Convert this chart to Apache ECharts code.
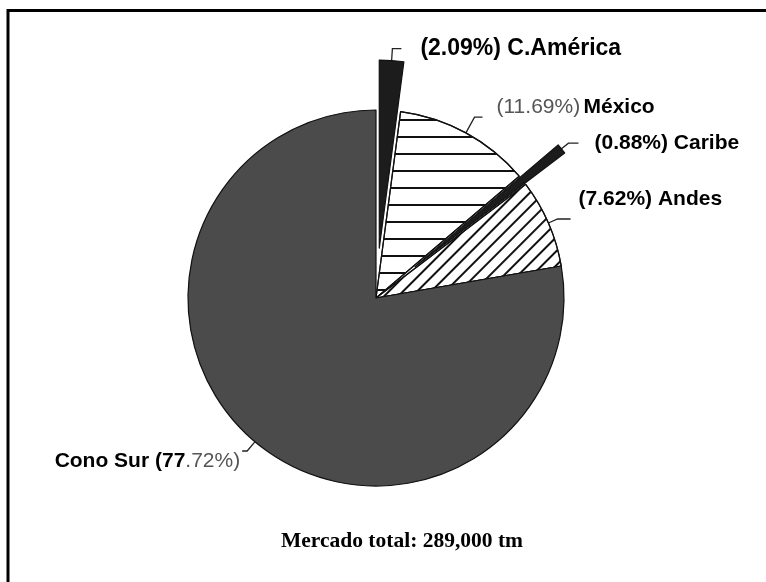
<!DOCTYPE html>
<html>
<head>
<meta charset="utf-8">
<script src="https://cdn.jsdelivr.net/npm/echarts@6/dist/echarts.min.js"></script>
<style>
html,body{margin:0;padding:0;background:#fff;}
#chart{width:766px;height:582px;}
</style>
</head>
<body>
<div id="chart"></div>
<script>
const categories = ['C.América', 'México', 'Caribe', 'Andes', 'Cono Sur'];
const shares = [2.09, 11.69, 0.88, 7.62, 77.72];
const exploded = [true, false, true, false, false];
const footnote = 'Mercado total: 289,000 tm';

const SANS = '"Liberation Sans", Arial, sans-serif';
const SERIF = '"Liberation Serif", "Times New Roman", serif';

const fills = [
  { color: '#1c1c1c' },
  { color: '#ffffff', decal: { symbol: 'rect', symbolSize: 1, dashArrayX: [1, 0], dashArrayY: [2, 14.5], rotation: 0, color: '#111' } },
  { color: '#1c1c1c' },
  { color: '#ffffff', decal: { symbol: 'rect', symbolSize: 1, dashArrayX: [1, 0], dashArrayY: [1.6, 7.8], rotation: -Math.PI / 4, color: '#111' } },
  { color: '#4b4b4b' }
];

const labelGeom = [
  { length: 12, length2: 9, dist: 19, pad: [0, 0, 0, 0] },
  { length: 18, length2: 8, dist: 14, pad: [0, 0, 20, 0] },
  { length: 9, length2: 10, dist: 16, pad: [0, 0, 0, 0] },
  { length: 10, length2: 13, dist: 8, pad: [0, 0, 40, 0] },
  { length: 12, length2: 5, dist: 2, pad: [20, 0, 0, 0] }
];

function fmt(v) { return v.toFixed(2); }

const data = categories.map((name, i) => {
  const v = shares[i];
  let formatter;
  if (name === 'México') {
    formatter = '{g|(' + fmt(v) + '%)} {b|' + name + '}';
  } else if (name === 'Cono Sur') {
    const parts = fmt(v).split('.');
    formatter = '{b|' + name + ' (' + parts[0] + '}{g|.' + parts[1] + '%)}';
  } else if (name === 'C.América') {
    formatter = '{c|(' + fmt(v) + '%) ' + name + '}';
  } else {
    formatter = '{b|(' + fmt(v) + '%) ' + name + '}';
  }
  const g = labelGeom[i];
  return {
    name: name,
    value: v,
    selected: exploded[i],
    itemStyle: Object.assign({ borderColor: '#111', borderWidth: 1.2 }, fills[i]),
    label: {
      formatter: formatter,
      distanceToLabelLine: g.dist,
      padding: g.pad
    },
    labelLine: { length: g.length, length2: g.length2 }
  };
});

const chart = echarts.init(document.getElementById('chart'), null, { renderer: 'canvas' });
chart.setOption({
  animation: false,
  backgroundColor: '#ffffff',
  graphic: [
    {
      type: 'rect',
      shape: { x: 8, y: 10.5, width: 820, height: 640 },
      style: { fill: 'none', stroke: '#000', lineWidth: 3 },
      silent: true
    },
    {
      type: 'text',
      x: 402, y: 541,
      style: {
        text: footnote,
        font: 'bold 21.5px ' + SERIF,
        fill: '#000',
        textAlign: 'center',
        textVerticalAlign: 'middle'
      },
      silent: true
    }
  ],
  series: [{
    type: 'pie',
    center: [376, 298],
    radius: 188,
    startAngle: 90,
    clockwise: true,
    avoidLabelOverlap: false,
    labelLayout: { hideOverlap: false },
    selectedMode: 'multiple',
    selectedOffset: 50,
    silent: true,
    emphasis: { disabled: true },
    label: {
      show: true,
      rich: {
        b: { fontFamily: SANS, fontWeight: 'bold', fontSize: 21, color: '#000' },
        c: { fontFamily: SANS, fontWeight: 'bold', fontSize: 23, color: '#000' },
        g: { fontFamily: SANS, fontWeight: 'normal', fontSize: 21, color: '#555' }
      }
    },
    labelLine: {
      show: true,
      smooth: false,
      lineStyle: { color: '#222', width: 1.3 }
    },
    data: data
  }]
});
</script>
</body>
</html>
